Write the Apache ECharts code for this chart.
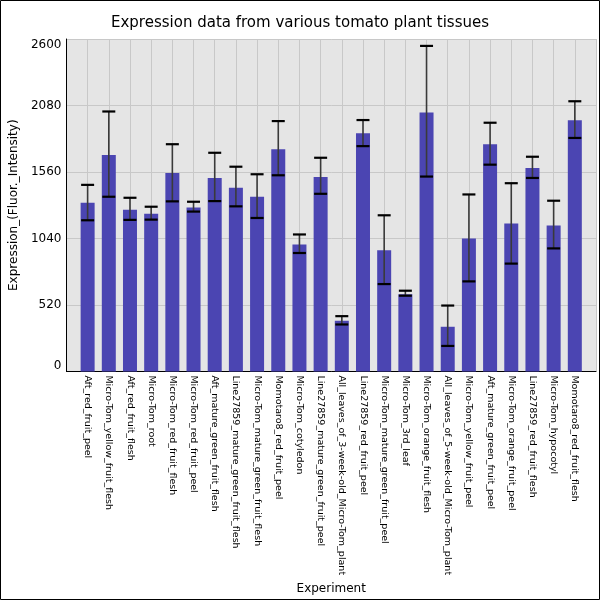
<!DOCTYPE html>
<html>
<head>
<meta charset="utf-8">
<script src="https://cdn.jsdelivr.net/npm/echarts@6/dist/echarts.min.js"></script>
<style>
  html, body { margin: 0; padding: 0; background: #fff; }
  #chart { width: 600px; height: 600px; }
</style>
</head>
<body>
<div id="chart"></div>
<script>
// tissues, in the order they are drawn
var tissues = [
  'Aft_red_fruit_peel', 'Micro-Tom_yellow_fruit_flesh', 'Aft_red_fruit_flesh',
  'Micro-Tom_root', 'Micro-Tom_red_fruit_flesh', 'Micro-Tom_red_fruit_peel',
  'Aft_mature_green_fruit_flesh', 'Line27859_mature_green_fruit_flesh',
  'Micro-Tom_mature_green_fruit_flesh', 'Momotaro8_red_fruit_peel',
  'Micro-Tom_cotyledon', 'Line27859_mature_green_fruit_peel',
  'All_leaves_of_3-week-old_Micro-Tom_plant', 'Line27859_red_fruit_peel',
  'Micro-Tom_mature_green_fruit_peel', 'Micro-Tom_3rd_leaf',
  'Micro-Tom_orange_fruit_flesh', 'All_leaves_of_5-week-old_Micro-Tom_plant',
  'Micro-Tom_yellow_fruit_peel', 'Aft_mature_green_fruit_peel',
  'Micro-Tom_orange_fruit_peel', 'Line27859_red_fruit_flesh',
  'Micro-Tom_hypocotyl', 'Momotaro8_red_fruit_flesh'
];
var expression = [
  1319, 1692, 1265, 1234, 1552, 1281, 1513, 1436, 1366, 1738, 993, 1521,
  396, 1863, 947, 603, 2026, 349, 1040, 1777, 1156, 1591, 1141, 1964
];
var errUp = [
  1459, 2033, 1358, 1288, 1777, 1327, 1710, 1601, 1542, 1958, 1071, 1671,
  432, 1966, 1221, 631, 2546, 515, 1384, 1945, 1472, 1679, 1335, 2113
];
var errLow = [
  1182, 1366, 1185, 1187, 1330, 1250, 1332, 1291, 1200, 1534, 926, 1389,
  367, 1762, 683, 592, 1524, 199, 704, 1617, 843, 1513, 962, 1826
];
var yTicks = [0, 520, 1040, 1560, 2080, 2600];

var barData = expression.map(function (v, i) { return [i, v]; });
var errData = expression.map(function (v, i) { return [i, errLow[i], errUp[i]]; });

var chart = echarts.init(document.getElementById('chart'));

var option = {
  animation: false,
  title: {
    text: 'Expression data from various tomato plant tissues',
    left: 'center',
    top: 11,
    textStyle: { fontFamily: 'DejaVu Sans', fontSize: 15, fontWeight: 'normal', color: '#000' }
  },
  grid: {
    left: 66, right: 4, top: 39, bottom: 227,
    show: true, backgroundColor: '#e5e5e5', borderWidth: 0
  },
  xAxis: {
    type: 'value',
    min: -1, max: 24, interval: 1,
    name: 'Experiment',
    nameLocation: 'middle',
    nameGap: 209,
    nameTextStyle: { fontFamily: 'DejaVu Sans', fontSize: 12, color: '#000' },
    axisLine: { onZero: false, lineStyle: { color: '#000', width: 1 } },
    axisTick: { show: false },
    splitLine: { show: true, lineStyle: { color: '#c8c8c8', width: 1 } },
    axisLabel: {
      rotate: -90,
      margin: 4,
      fontFamily: 'DejaVu Sans',
      fontSize: 9.5,
      color: '#000',
      showMinLabel: false,
      showMaxLabel: false,
      formatter: function (v) { return tissues[v] || ''; }
    }
  },
  yAxis: {
    type: 'value',
    min: 0, max: 2600, interval: 520,
    name: 'Expression_(Fluor._Intensity)',
    nameLocation: 'middle',
    nameGap: 44,
    nameTextStyle: { fontFamily: 'DejaVu Sans', fontSize: 12, color: '#000' },
    axisLine: { show: true, onZero: false, lineStyle: { color: '#000', width: 1 } },
    axisTick: { show: false },
    splitLine: { show: true, lineStyle: { color: '#c8c8c8', width: 1 } },
    axisLabel: {
      margin: 5,
      fontFamily: 'DejaVu Sans',
      fontSize: 12,
      color: '#000',
      verticalAlignMaxLabel: 'top',
      verticalAlignMinLabel: 'bottom',
      formatter: function (v) { return yTicks.indexOf(v) >= 0 ? String(v) : ''; }
    }
  },
  series: [
    {
      type: 'bar',
      data: barData,
      barWidth: 14,
      itemStyle: { color: '#4b45b2' }
    },
    {
      type: 'custom',
      data: errData,
      z: 10,
      renderItem: function (params, api) {
        var x = api.value(0);
        var lo = api.coord([x, api.value(1)]);
        var hi = api.coord([x, api.value(2)]);
        var half = 6.5;
        return {
          type: 'group',
          children: [
            { type: 'line', shape: { x1: lo[0], y1: lo[1], x2: hi[0], y2: hi[1] },
              style: { stroke: '#3a3a3a', lineWidth: 1.6 } },
            { type: 'line', shape: { x1: hi[0] - half, y1: hi[1], x2: hi[0] + half, y2: hi[1] },
              style: { stroke: '#000', lineWidth: 2.2 } },
            { type: 'line', shape: { x1: lo[0] - half, y1: lo[1], x2: lo[0] + half, y2: lo[1] },
              style: { stroke: '#000', lineWidth: 2.2 } }
          ]
        };
      }
    }
  ],
  graphic: [
    { type: 'rect', shape: { x: 0.5, y: 0.5, width: 599, height: 599 },
      style: { fill: 'none', stroke: '#000', lineWidth: 1 }, silent: true }
  ]
};

chart.setOption(option);
</script>
</body>
</html>
